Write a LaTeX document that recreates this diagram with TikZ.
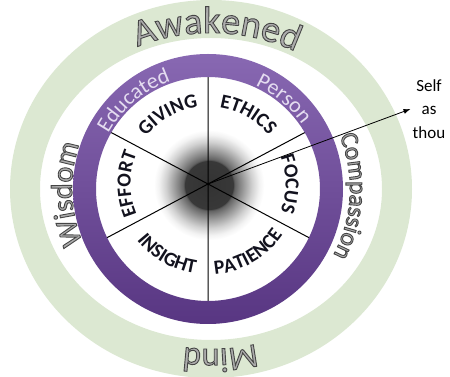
\documentclass[tikz,border=0pt]{standalone}
\usepackage{fontspec}
\setmainfont{Carlito}
\usetikzlibrary{decorations.text,arrows.meta}
\definecolor{sage}{RGB}{220,232,210}
\definecolor{purpTop}{RGB}{136,104,178}
\definecolor{purpBot}{RGB}{88,54,130}
\definecolor{wordfill}{RGB}{172,172,172}
\definecolor{lav}{RGB}{228,220,240}
\definecolor{ink}{RGB}{18,18,30}
\pgfdeclareradialshading{blob}{\pgfpoint{0bp}{0bp}}{color(0bp)=(black!80); color(24bp)=(black!78); color(25.5bp)=(black!62); color(30bp)=(black!50); color(36bp)=(black!35); color(43bp)=(black!18); color(50bp)=(black!5); color(55bp)=(white); color(60bp)=(white)}
\newcommand\wordart[1]{\fontsize{#1}{#1}\selectfont\color{wordfill}\special{pdf:literal direct 2 Tr 0.9 w 0.27 G}}
\tikzset{
  spoke/.style={line width=1pt, black},
  outertext/.style={decorate, decoration={text along path, text align=center, text={#1}}},
  innertext/.style={decorate, decoration={text along path, text align=center, text color=ink, text={#1}}},
  bandtext/.style={decorate, decoration={text along path, text align=center, text color=lav, text={#1}}},
}
\begin{document}
\begin{tikzpicture}[x=1pt,y=1pt]
\useasboundingbox (0,0) rectangle (450,377);
\coordinate (O) at (211,188);
\coordinate (D) at (208,188);
\coordinate (C) at (208,193);
\coordinate (B) at (209,192);
% green ring
\fill[sage, even odd rule] (O) ellipse [x radius=201pt, y radius=189pt] (O) ellipse [x radius=171pt, y radius=151pt];
% central glow
\node[inner sep=0pt, outer sep=0pt] (glow) at (B) {\pgfuseshading{blob}};
% spokes
\path (C) ++(28:125pt) coordinate (s1) (C) ++(90:125pt) coordinate (s2)
      (C) ++(152:125pt) coordinate (s3) (C) ++(208:125pt) coordinate (s4)
      (C) ++(270:125pt) coordinate (s5) (C) ++(332:125pt) coordinate (s6);
\draw[spoke] (C) -- (s1) (C) -- (s2) (C) -- (s3) (C) -- (s4) (C) -- (s5) (C) -- (s6);
% purple ring
\shade[top color=purpTop, bottom color=purpBot, even odd rule] (D) circle [radius=135pt] (D) circle [radius=112pt];
% outer words
\path[outertext={|\wordart{38pt}|Awakened}] (O) ++(128:178pt and 156pt) arc [start angle=128, end angle=48, x radius=178pt, y radius=156pt];
\path[outertext={|\wordart{34pt}|Mind}] (O) ++(303:178pt and 160pt) arc [start angle=303, end angle=243, x radius=178pt, y radius=160pt];
\path[outertext={|\wordart{30pt}|Wisdom}] (O) ++(212:139pt) arc [start angle=212, end angle=152, radius=139pt];
\path[outertext={|\wordart{25pt}|Compassion}] (O) ++(32:139pt) arc [start angle=32, end angle=-38, radius=139pt];
% band words
\path[bandtext={|\fontsize{22pt}{24pt}\selectfont|Educated}] (D) ++(170:114pt) arc [start angle=170, end angle=90, radius=114pt];
\path[bandtext={|\fontsize{22pt}{24pt}\selectfont|Person}] (D) ++(88:114pt) arc [start angle=88, end angle=12, radius=114pt];
% inner words
\path[innertext={|\fontsize{20pt}{22pt}\selectfont\bfseries|GIVING}] (C) ++(160:77.5pt) arc [start angle=160, end angle=80, radius=77.5pt];
\path[innertext={|\fontsize{20pt}{22pt}\selectfont\bfseries|ETHICS}] (C) ++(100:77.5pt) arc [start angle=100, end angle=20, radius=77.5pt];
\path[innertext={|\fontsize{20pt}{22pt}\selectfont\bfseries|FOCUS}] (C) ++(40:77.5pt) arc [start angle=40, end angle=-40, radius=77.5pt];
\path[innertext={|\fontsize{20pt}{22pt}\selectfont\bfseries|EFFORT}] (C) ++(220:77.5pt) arc [start angle=220, end angle=140, radius=77.5pt];
\path[innertext={|\fontsize{20pt}{22pt}\selectfont\bfseries|PATIENCE}] (C) ++(-100:90.5pt) arc [start angle=-100, end angle=-20, radius=90.5pt];
\path[innertext={|\fontsize{20pt}{22pt}\selectfont\bfseries|INSIGHT}] (C) ++(-160:90.5pt) arc [start angle=-160, end angle=-80, radius=90.5pt];
% self as thou
\node[font=\fontsize{17pt}{23.5pt}\selectfont, align=center, inner sep=2pt] (self) at (429,268) {Self\\as\\thou};
\draw[-{Latex[length=7pt,width=5pt]}, line width=0.8pt] (C) -- (self.west);
\end{tikzpicture}
\end{document}
